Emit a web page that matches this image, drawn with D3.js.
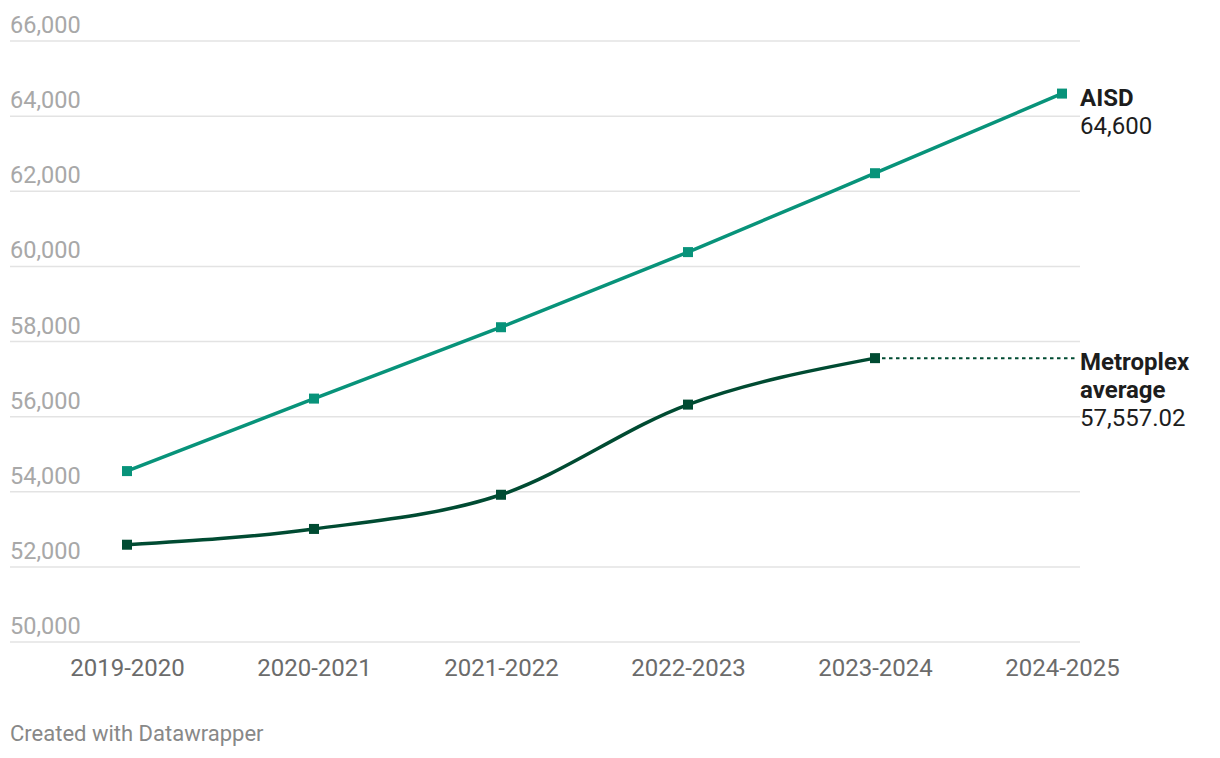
<!DOCTYPE html>
<html>
<head>
<meta charset="utf-8">
<script src="https://cdn.jsdelivr.net/npm/d3@7"></script>
<style>
	body { margin: 0; background: #fff; font-family: Roboto, "Noto Sans", sans-serif; }
	svg text { font-family: Roboto, "Noto Sans", sans-serif; }
</style>
</head>
<body>
<svg id="chart" width="1220" height="758"></svg>
<script>
// data
var years = ["2019-2020", "2020-2021", "2021-2022", "2022-2023", "2023-2024", "2024-2025"];
var aisd = [54550, 56480, 58380, 60380, 62480, 64600];
var metroplex = [52590, 53010, 53920, 56320, 57557.02, null];
var yTicks = [50000, 52000, 54000, 56000, 58000, 60000, 62000, 64000, 66000];

var aisdColor = "#08937a";
var metroColor = "#004b32";

var svg = d3.select("#chart");

var x = d3.scalePoint().domain(years).range([127, 1062]);
var y = d3.scaleLinear().domain([50000, 66000]).range([642, 41]);

// gridlines + y labels
var grid = svg.append("g").attr("class", "grid");
grid.selectAll("line").data(yTicks).enter().append("line")
	.attr("x1", 10).attr("x2", 1080)
	.attr("y1", function(d){ return y(d); })
	.attr("y2", function(d){ return y(d); })
	.attr("stroke", "#e3e3e3")
	.attr("stroke-width", 1.5);

grid.selectAll("text").data(yTicks).enter().append("text")
	.attr("x", 10)
	.attr("y", function(d){ return y(d) - 8; })
	.attr("font-size", 23.5)
	.attr("fill", "#a8a8a8")
	.text(function(d){ return d3.format(",")(d); });

// x axis labels
var xAxis = d3.axisBottom(x).tickSize(0).tickPadding(0);
var gX = svg.append("g")
	.attr("transform", "translate(0,668)")
	.call(xAxis);
gX.select(".domain").remove();
gX.selectAll("text")
	.attr("font-size", 24)
	.attr("fill", "#6b6b6b")
	.attr("dy", "0.35em");

// lines
var lineAisd = d3.line()
	.x(function(d, i){ return x(years[i]); })
	.y(function(d){ return y(d); })
	.curve(d3.curveMonotoneX);

var lineMetro = d3.line()
	.defined(function(d){ return d != null; })
	.x(function(d, i){ return x(years[i]); })
	.y(function(d){ return y(d); })
	.curve(d3.curveMonotoneX);

// dotted extension of the metroplex line to its label
var lastMetro = metroplex[4];
svg.append("line")
	.attr("x1", x(years[4])).attr("x2", 1075)
	.attr("y1", y(lastMetro)).attr("y2", y(lastMetro))
	.attr("stroke", metroColor)
	.attr("stroke-width", 2)
	.attr("stroke-dasharray", "3.5,3.5");

svg.append("path")
	.datum(aisd)
	.attr("d", lineAisd)
	.attr("fill", "none")
	.attr("stroke", aisdColor)
	.attr("stroke-width", 3.5);

svg.append("path")
	.datum(metroplex)
	.attr("d", lineMetro)
	.attr("fill", "none")
	.attr("stroke", metroColor)
	.attr("stroke-width", 3.5);

// square markers
function markers(data, color){
	svg.append("g").selectAll("rect")
		.data(data.map(function(d, i){ return {v: d, k: years[i]}; }).filter(function(d){ return d.v != null; }))
		.enter().append("rect")
		.attr("x", function(d){ return x(d.k) - 5; })
		.attr("y", function(d){ return y(d.v) - 5; })
		.attr("width", 10).attr("height", 10)
		.attr("fill", color);
}
markers(aisd, aisdColor);
markers(metroplex, metroColor);

// direct labels on the right
function label(lines, yPos){
	var t = svg.append("text").attr("x", 1080).attr("font-size", 24).attr("fill", "#1d1d1d");
	lines.forEach(function(l, i){
		t.append("tspan")
			.attr("x", 1080)
			.attr("y", yPos + i * 28)
			.attr("font-weight", l.bold ? 700 : 400)
			.text(l.text);
	});
}
label([{text: "AISD", bold: true}, {text: d3.format(",")(aisd[5])}], y(aisd[5]) + 12);
label([{text: "Metroplex", bold: true}, {text: "average", bold: true}, {text: d3.format(",.2f")(lastMetro)}], y(lastMetro) + 12);

// footer
svg.append("text")
	.attr("x", 10).attr("y", 741)
	.attr("font-size", 22)
	.attr("fill", "#888")
	.text("Created with Datawrapper");
</script>
</body>
</html>
